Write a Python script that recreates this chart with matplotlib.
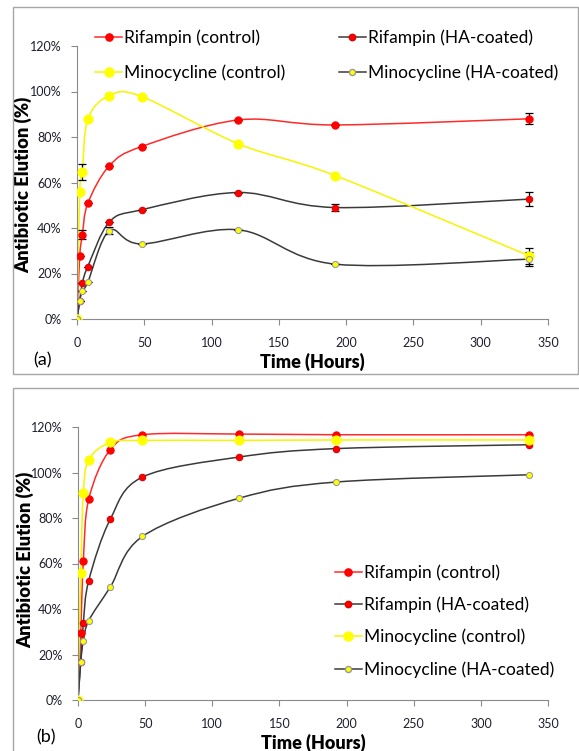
import numpy as np
import matplotlib
matplotlib.use('Agg')
import matplotlib.pyplot as plt
from matplotlib.path import Path
from matplotlib.patches import PathPatch, Rectangle
from matplotlib.lines import Line2D

plt.rcParams['font.family'] = ['Lato', 'DejaVu Sans']

hours = [0, 2, 4, 8, 24, 48, 120, 192, 336]

# panel (a)
rif_ctrl_a = [0, 27.5, 37, 50.8, 67.3, 75.8, 87.5, 85.3, 88]
rif_ha_a = [0, 7.8, 15.8, 23, 42.6, 48, 55.6, 49, 52.7]
mino_ctrl_a = [0, 55.8, 64.8, 87.8, 98.2, 97.8, 77, 63, 27.8]
mino_ha_a = [0, 8, 12.4, 16.2, 38.8, 33, 39.2, 24.1, 26.3]
rif_ctrl_a_err = [0, 0, 2, 0, 0, 0, 0, 0, 2.5]
rif_ha_a_err = [0, 0, 0, 0, 0, 0, 0, 1.5, 3.2]
mino_ctrl_a_err = [0, 0, 3.5, 0, 0, 0, 0, 0, 3.5]
mino_ha_a_err = [0, 0, 0, 0, 1.5, 0, 0, 0, 3]

# panel (b)
rif_ctrl_b = [0, 29.6, 61.3, 88.3, 110, 116.6, 116.9, 116.6, 116.6]
rif_ha_b = [0, 16.5, 34, 52.5, 79.4, 98, 106.8, 110.5, 112.2]
mino_ctrl_b = [0, 55.7, 91, 105.6, 113.2, 114.1, 114.1, 114.3, 114.3]
mino_ha_b = [0, 16.6, 26, 34.9, 49.6, 71.9, 88.7, 95.8, 99]

names = ['Rifampin (control)', 'Rifampin (HA-coated)',
         'Minocycline (control)', 'Minocycline (HA-coated)']
line_cols = ['#ff2a2a', '#3a3a3a', '#f5f500', '#3a3a3a']
face_cols = ['#ff0000', '#ff0000', '#ffff00', '#ffff00']
edge_cols = ['#ff0000', '#e00000', '#ffff00', '#9a9a9a']
msizes = [5.2, 4.6, 6.5, 4.4]
tick_col = '#1e1e2e'
axis_col = '#8a8a8a'


def smooth(ax, x, y, color):
    # Excel-style smoothed line: cubic bezier through the points
    pts = np.column_stack([x, y]).astype(float)
    n = len(pts)
    verts = [pts[0]]
    codes = [Path.MOVETO]
    for i in range(n - 1):
        p0 = pts[i - 1] if i > 0 else pts[i]
        p1, p2 = pts[i], pts[i + 1]
        p3 = pts[i + 2] if i + 2 < n else pts[i + 1]
        verts += [p1 + (p2 - p0) / 6, p2 - (p3 - p1) / 6, p2]
        codes += [Path.CURVE4] * 3
    ax.add_patch(PathPatch(Path(verts, codes), fc='none', ec=color, lw=1.1, zorder=2))


def panel(ax, series, errs, label_y):
    for k, ys in enumerate(series):
        smooth(ax, hours, ys, line_cols[k])
        if errs is not None:
            ax.errorbar(hours, ys, yerr=errs[k], fmt='none', ecolor='black',
                        elinewidth=0.9, capsize=3, capthick=0.9, zorder=3)
        ax.plot(hours, ys, ls='none', marker='o', ms=msizes[k], mfc=face_cols[k],
                mec=edge_cols[k], mew=0.8, zorder=4)
    ax.set_xlim(0, 350)
    ax.set_ylim(0, 120)
    ax.set_xticks(range(0, 351, 50))
    ax.set_yticks(range(0, 121, 20))
    ax.set_yticklabels(['{}%'.format(v) for v in range(0, 121, 20)])
    for s in ['top', 'right']:
        ax.spines[s].set_visible(False)
    for s in ['left', 'bottom']:
        ax.spines[s].set_color(axis_col)
    ax.tick_params(colors=axis_col, labelcolor=tick_col, labelsize=9, length=4, pad=7)
    ax.tick_params(axis='x', pad=9)
    ax.set_ylabel('Antibiotic Elution (%)', fontsize=13.2, fontweight='heavy')
    ax.yaxis.set_label_coords(-0.094, label_y)
    ax.set_xlabel('Time (Hours)', fontsize=13, fontweight='heavy', labelpad=3)


def handles():
    return [Line2D([], [], color=line_cols[k], lw=1.1, marker='o', ms=msizes[k],
                   mfc=face_cols[k], mec=edge_cols[k]) for k in range(4)]


fig = plt.figure(figsize=(5.79, 7.51), dpi=100)

fig.add_artist(Rectangle((13 / 579, 1 - 374 / 751), 565 / 579, 367 / 751,
                         transform=fig.transFigure, fill=False, ec='#a6a6a6', lw=1))
fig.add_artist(Rectangle((13 / 579, -0.05), 1.0, 0.05 + 1 - 388 / 751,
                         transform=fig.transFigure, fill=False, ec='#a6a6a6', lw=1))

ax1 = fig.add_axes([77 / 579, 1 - 319 / 751, 471 / 579, 273 / 751])
panel(ax1, [rif_ctrl_a, rif_ha_a, mino_ctrl_a, mino_ha_a],
      [rif_ctrl_a_err, rif_ha_a_err, mino_ctrl_a_err, mino_ha_a_err], 0.49)
h = handles()
ax1.legend([h[0], h[2], h[1], h[3]], [names[0], names[2], names[1], names[3]],
           ncol=2, loc='center left', bbox_to_anchor=(0.024, 0.967), frameon=False,
           fontsize=12.5, handlelength=1.55, handletextpad=0.1, columnspacing=3.1,
           labelspacing=1.05, borderaxespad=0)
ax1.text(-0.074, -0.15, '(a)', transform=ax1.transAxes, fontsize=13, ha='center', va='center')

ax2 = fig.add_axes([78 / 579, 1 - 700 / 751, 470 / 579, 273 / 751])
panel(ax2, [rif_ctrl_b, rif_ha_b, mino_ctrl_b, mino_ha_b], None, 0.515)
ax2.legend(handles(), names, loc='center left', bbox_to_anchor=(0.532, 0.289),
           frameon=False, fontsize=12.5, handlelength=1.55, handletextpad=0.1,
           labelspacing=0.9, borderaxespad=0)
ax2.text(-0.068, -0.136, '(b)', transform=ax2.transAxes, fontsize=13, ha='center', va='center')

fig.savefig('out.png', dpi=100)
